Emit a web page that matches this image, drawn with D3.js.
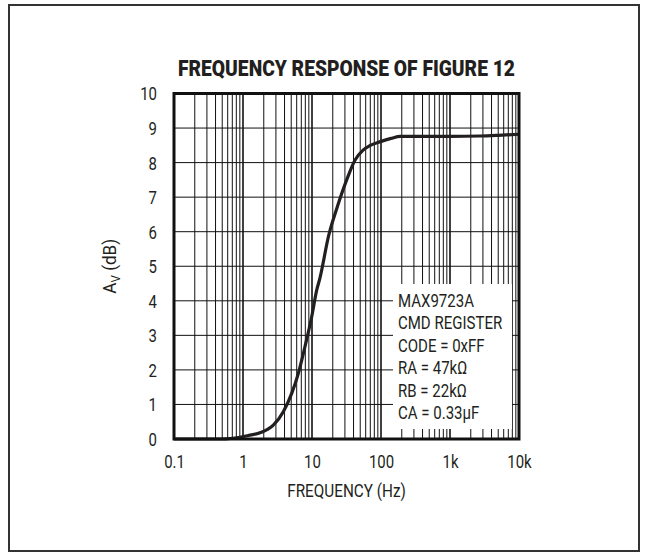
<!DOCTYPE html>
<html>
<head>
<meta charset="utf-8">
<script src="https://cdn.jsdelivr.net/npm/d3@7/dist/d3.min.js"></script>
<style>
  html, body { margin: 0; padding: 0; background: #fff; }
  svg { display: block; }
  text { font-family: "Liberation Sans Narrow", "Arial Narrow", "Roboto", sans-serif; fill: #231f20; }
</style>
</head>
<body>
<svg id="chart" width="647" height="555"></svg>
<script>
// Measured gain of the circuit (dB) versus frequency (Hz)
const freqHz = [0.1, 0.5, 0.9, 1.2, 1.76, 2.75, 3.84, 5.08, 6.34, 7.9, 9.9, 11.7, 13, 17.5, 22.5, 31.8, 41.9, 55, 70, 96, 140, 190, 500, 1000, 2700, 5000, 10000];
const gainDb = [0, 0, 0.05, 0.1, 0.18, 0.4, 0.79, 1.32, 1.9, 2.67, 3.54, 4.31, 4.65, 5.9, 6.63, 7.5, 8.07, 8.36, 8.5, 8.6, 8.7, 8.76, 8.76, 8.76, 8.77, 8.79, 8.82];

const xTickValues = [0.1, 1, 10, 100, 1000, 10000];
const xTickLabels = ["0.1", "1", "10", "100", "1k", "10k"];
const yTickValues = [0, 1, 2, 3, 4, 5, 6, 7, 8, 9, 10];

const titleText = "FREQUENCY RESPONSE OF FIGURE 12";
const xAxisTitle = "FREQUENCY (Hz)";
const legendLines = ["MAX9723A", "CMD REGISTER", "CODE = 0xFF", "RA = 47k\u03A9", "RB = 22k\u03A9", "CA = 0.33\u00B5F"];

const svg = d3.select("#chart");
const plot = { left: 174, right: 519, top: 93.5, bottom: 439 };

const x = d3.scaleLog().domain([0.1, 10000]).range([plot.left, plot.right]);
const y = d3.scaleLinear().domain([0, 10]).range([plot.bottom, plot.top]);

// Squeeze text horizontally to a condensed face
function condense(sel, f) {
  sel.each(function () {
    const w = this.getComputedTextLength();
    d3.select(this).attr("textLength", w * f).attr("lengthAdjust", "spacingAndGlyphs");
  });
}

// Outer frame
svg.append("rect")
  .attr("x", 9).attr("y", 5).attr("width", 630).attr("height", 546)
  .attr("fill", "none").attr("stroke", "#333").attr("stroke-width", 2);

// Title
svg.append("text")
  .attr("x", (plot.left + plot.right) / 2).attr("y", 76)
  .attr("text-anchor", "middle")
  .attr("font-size", 22).attr("font-weight", 900)
  .attr("textLength", 337).attr("lengthAdjust", "spacingAndGlyphs")
  .text(titleText);

// Grid: every 1..9 step of each decade
const minorFreqs = [];
for (let d = -1; d < 4; d++) {
  for (let m = 1; m <= 9; m++) minorFreqs.push(m * Math.pow(10, d));
}
minorFreqs.push(10000);

const grid = svg.append("g");
grid.selectAll("line.v").data(minorFreqs).join("line")
  .attr("class", "v")
  .attr("x1", d => x(d)).attr("x2", d => x(d))
  .attr("y1", plot.top).attr("y2", plot.bottom)
  .attr("stroke", "#111")
  .attr("stroke-width", d => xTickValues.includes(d) ? 1.6 : 1);

grid.selectAll("line.h").data(yTickValues).join("line")
  .attr("class", "h")
  .attr("x1", plot.left).attr("x2", plot.right)
  .attr("y1", d => y(d)).attr("y2", d => y(d))
  .attr("stroke", "#111").attr("stroke-width", 1);

// Gain curve
const line = d3.line()
  .x((d, i) => x(freqHz[i]))
  .y(d => y(d))
  .curve(d3.curveMonotoneX);

svg.append("path")
  .datum(gainDb)
  .attr("d", line)
  .attr("fill", "none")
  .attr("stroke", "#231f20")
  .attr("stroke-width", 3.2)
  .attr("stroke-linejoin", "round");

// Plot border
svg.append("rect")
  .attr("x", plot.left).attr("y", plot.top)
  .attr("width", plot.right - plot.left).attr("height", plot.bottom - plot.top)
  .attr("fill", "none").attr("stroke", "#111").attr("stroke-width", 3);

// Legend block
const legend = svg.append("g");
legend.append("rect")
  .attr("x", 393).attr("y", 284).attr("width", 119).attr("height", 145)
  .attr("fill", "#fff");
const legendText = legend.selectAll("text").data(legendLines).join("text")
  .attr("x", 398)
  .attr("y", (d, i) => 307 + i * 22.4)
  .attr("font-size", 19)
  .text(d => d);
condense(legendText, 0.79);

// Axes (labels only; the grid and border carry the lines)
const xAxis = d3.axisBottom(x).tickValues(xTickValues)
  .tickFormat((d, i) => xTickLabels[i]).tickSize(0).tickPadding(0);
const gx = svg.append("g").attr("transform", `translate(0,${plot.bottom})`).call(xAxis);
gx.select(".domain").remove();
gx.attr("font-family", null);
gx.selectAll("text")
  .attr("y", 29).attr("dy", null)
  .attr("font-size", 18)
  .attr("fill", null);
condense(gx.selectAll("text"), 0.83);

const yAxis = d3.axisLeft(y).tickValues(yTickValues).tickSize(0).tickPadding(0);
const gy = svg.append("g").attr("transform", `translate(${plot.left},0)`).call(yAxis);
gy.select(".domain").remove();
gy.attr("font-family", null);
gy.selectAll("text")
  .attr("x", -17).attr("dy", "0.36em")
  .attr("font-size", 18)
  .attr("fill", null);
condense(gy.selectAll("text"), 0.83);

// Axis titles
const xt = svg.append("text")
  .attr("x", (plot.left + plot.right) / 2).attr("y", 497)
  .attr("text-anchor", "middle")
  .attr("font-size", 18)
  .text(xAxisTitle);
condense(xt, 0.85);

const yTitle = svg.append("text")
  .attr("transform", `translate(116,${(plot.top + plot.bottom) / 2}) rotate(-90) scale(0.9,1)`)
  .attr("text-anchor", "middle")
  .attr("font-size", 19);
yTitle.append("tspan").text("A");
yTitle.append("tspan").attr("font-size", 13).attr("dy", 4).text("V");
yTitle.append("tspan").attr("dy", -4).text(" (dB)");
</script>
</body>
</html>
